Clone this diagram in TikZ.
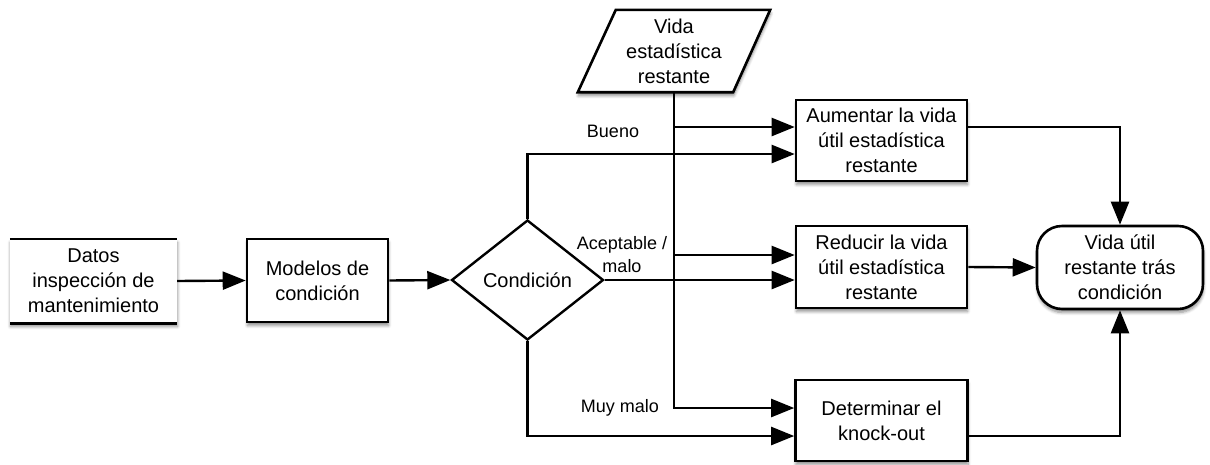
\documentclass[tikz,border=0pt]{standalone}
\usepackage{fontspec}
\setmainfont{Liberation Sans}
\usetikzlibrary{shapes.geometric,arrows.meta,shadows.blur}

\begin{document}
\begin{tikzpicture}[x=1pt,y=-1pt,
  every node/.style={font=\fontsize{20}{25}\selectfont, align=center, inner sep=0pt},
  softshadow/.style={blur shadow={shadow xshift=0.5pt, shadow yshift=-3.5pt,
      shadow blur radius=3pt, shadow blur steps=6, shadow opacity=45}},
  stepbox/.style={draw, line width=2.6pt, fill=white, softshadow},
  flow/.style={line width=2.4pt, -{Triangle[length=23pt,width=18pt,fill=black]}},
  plain/.style={line width=2.6pt},
  lbl/.style={font=\fontsize{18}{23}\selectfont}]
\useasboundingbox (0,0) rectangle (1210,464);

% input data (open box: top and bottom rules only)
\node[fill=white, softshadow, minimum width=167pt, minimum height=84pt] (datos) at (93.5,281)
  {Datos\\inspección de\\mantenimiento};
\draw[plain] (datos.north west) -- (datos.north east);
\draw[plain] (datos.south west) -- (datos.south east);

% processing chain
\node[stepbox, minimum width=141pt, minimum height=83pt] (model) at (317.5,280.5) {Modelos de\\condición};
\node[diamond, draw, line width=2.4pt, fill=white, minimum width=152pt, minimum height=120pt] (cond) at (527.5,280) {Condición};

% statistical remaining life (parallelogram input)
\node[minimum width=192pt, minimum height=82pt] (vida) at (674,51) {Vida\\estadística\\restante};
\draw[line width=2.6pt, fill=white, softshadow]
  ([xshift=38pt]vida.north west) -- (vida.north east)
  -- ([xshift=-37pt]vida.south east) -- (vida.south west) -- cycle;
\node at (vida) {Vida\\estadística\\restante};

% actions
\node[stepbox, minimum width=171pt, minimum height=81pt] (aum) at (881.5,140.5) {Aumentar la vida\\útil estadística\\restante};
\node[stepbox, minimum width=171pt, minimum height=82pt] (red) at (881.5,267) {Reducir la vida\\útil estadística\\restante};
\node[stepbox, minimum width=172pt, minimum height=81pt] (det) at (881.5,420.5) {Determinar el\\knock-out};

% result
\node[draw, line width=2.6pt, fill=white, softshadow, rounded corners=25pt,
      minimum width=166pt, minimum height=83pt] (vrem) at (1120,267.5) {Vida útil\\restante trás\\condición};

% connectors
\draw[flow] (datos.east) -- (model.west);
\draw[flow] (model.east) -- (cond.west);

\draw[flow] (vida.south) |- ([yshift=13.5pt]aum.west);
\draw[flow] (vida.south) |- ([yshift=12pt]red.west);
\draw[flow] (vida.south) |- ([yshift=12.5pt]det.west);

\draw[flow] (cond.north) |- ([yshift=-13.5pt]aum.west);
\draw[flow] (cond.east) -- (cond.east -| red.west);
\draw[flow] (cond.south) |- ([yshift=-15.5pt]det.west);

\draw[flow] ([yshift=13.5pt]aum.east) -| (vrem.north);
\draw[flow] (red.east) -- (vrem.west);
\draw[flow] ([yshift=-15.5pt]det.east) -| (vrem.south);

% branch labels
\node[lbl] (lbueno) at (613,131) {Bueno};
\node[lbl] (lacep) at (622,254.5) {Aceptable /\\malo};
\node[lbl] (lmuy) at (620,408) {Muy malo};
\end{tikzpicture}
\end{document}
